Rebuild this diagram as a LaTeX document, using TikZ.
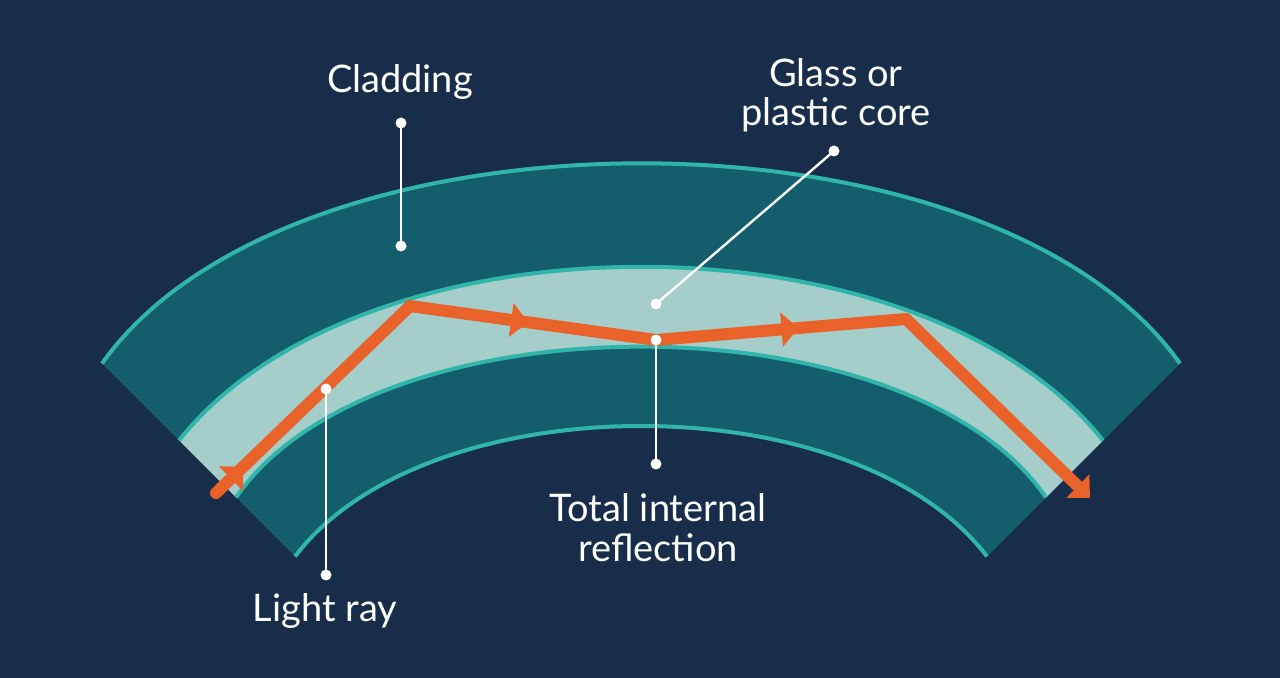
\documentclass[tikz,border=0pt]{standalone}
\usepackage{fontspec}
\setmainfont{Lato}
\usetikzlibrary{arrows.meta,decorations.markings}
\definecolor{bgnavy}{RGB}{23,45,73}
\definecolor{bandteal}{RGB}{20,93,108}
\definecolor{corelight}{RGB}{165,205,201}
\definecolor{bordteal}{RGB}{47,181,170}
\definecolor{rayorange}{RGB}{233,98,42}
\tikzset{
  border/.style={draw=bordteal,line width=2pt},
  ray/.style={draw=rayorange,line width=6pt,line join=miter},
  raymark/.style={color=rayorange,postaction={decorate},
    decoration={markings,mark=at position #1 with {\arrow{Triangle[length=8.5pt,width=17pt]}}}},
  pointer/.style={draw=white,line width=1.2pt},
  dotnode/.style={circle,fill=white,inner sep=0pt,minimum size=5.5pt},
  label/.style={text=white,font=\fontsize{19}{19.6}\selectfont,align=center,anchor=base,inner sep=0pt}
}
\begin{document}
\begin{tikzpicture}[x=0.5pt,y=-0.5pt]
\useasboundingbox (0,0) rectangle (1280,678);
\fill[bgnavy] (0,0) rectangle (1280,678);
% corners
\coordinate (L1) at (102,363.5);
\coordinate (L2) at (179,440.5);
\coordinate (L3) at (236,497.5);
\coordinate (L4) at (295,556.5);
\coordinate (R1) at (1180,363.5);
\coordinate (R2) at (1103,440.5);
\coordinate (R3) at (1046,497.5);
\coordinate (R4) at (987,556.5);
% cladding band
\fill[bandteal] (L1) .. controls (291.3,96.6) and (990.7,96.6) .. (R1) -- (R4)
  .. controls (855,382.5) and (427,382.5) .. (L4) -- cycle;
% core
\fill[corelight] (L2) .. controls (362.2,208.9) and (919.8,208.9) .. (R2) -- (R3)
  .. controls (908.2,296.4) and (373.8,296.4) .. (L3) -- cycle;
% borders
\draw[border] (L1) .. controls (291.3,96.6) and (990.7,96.6) .. (R1);
\draw[border] (L2) .. controls (362.2,208.9) and (919.8,208.9) .. (R2);
\draw[border] (L3) .. controls (373.8,296.4) and (908.2,296.4) .. (R3);
\draw[border] (L4) .. controls (427,382.5) and (855,382.5) .. (R4);
% light ray
\coordinate (r0) at (216,493);
\coordinate (r1) at (410,306);
\coordinate (r2) at (656,340);
\coordinate (r3) at (906,319);
\coordinate (r4) at (1090,498);
\draw[ray,line cap=round] (r0) -- (r1) -- (r2) -- (r3);
\draw[ray,-{Triangle[length=8.5pt,width=16pt]}] (r3) -- (r4);
\path[raymark=0.14] (r0) -- (r1);
\path[raymark=0.48] (r1) -- (r2);
\path[raymark=0.57] (r2) -- (r3);
% pointers
\node[dotnode] (c1) at (401,123) {};
\node[dotnode] (c2) at (401,246) {};
\node[dotnode] (g1) at (834,151) {};
\node[dotnode] (g2) at (656,304) {};
\node[dotnode] (t1) at (656,340) {};
\node[dotnode] (t2) at (656,464) {};
\node[dotnode] (l1) at (326,389) {};
\node[dotnode] (l2) at (326,575) {};
\draw[pointer] (c1.center) -- (c2.center);
\draw[pointer] (g1.center) -- (g2.center);
\draw[pointer] (t1.center) -- (t2.center);
\draw[pointer] (l1.center) -- (l2.center);
% labels (base = baseline of last line)
\node[label] (clad) at (400,93) {Cladding};
\node[label] (glass) at (836,126) {Glass or\\plastic core};
\node[label] (tir) at (658,561) {Total internal\\reflection};
\node[label] (light) at (325,621.7) {Light ray};
\end{tikzpicture}
\end{document}
